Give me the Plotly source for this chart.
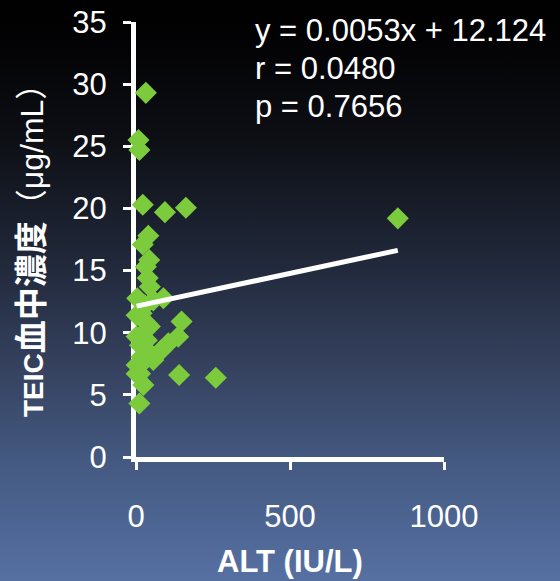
import plotly.graph_objects as go
import urllib.parse

# ---------------- data ----------------
alt_iu = [32, 8, 11, 22, 94, 162, 40, 22, 43, 32, 38, 4, 89, 56, 45, 29, 2, 18,
          148, 35, 45, 137, 105, 83, 13, 35, 2, 13, 45, 18, 56, 2, 18, 2, 13, 24,
          140, 259, 11, 850]
teic = [29.3, 25.5, 24.7, 20.3, 19.7, 20.05, 17.8, 17.1, 15.85, 15.3, 14.4, 12.77,
        12.77, 12.6, 13.7, 12.2, 11.4, 11.56, 10.9, 10.75, 10.5, 9.68, 9.15, 8.6,
        9.7, 9.4, 9.7, 9.0, 8.34, 8.07, 7.8, 7.4, 7.5, 6.7, 6.7, 5.8, 6.6, 6.38,
        4.3, 19.2]
slope = 0.0053
intercept = 12.124
stats_lines = ["y = 0.0053x + 12.124", "r = 0.0480", "p = 0.7656"]
x_ticks = [0, 500, 1000]
y_ticks = [0, 5, 10, 15, 20, 25, 30, 35]
x_title = "<b>ALT (IU/L)</b>"
y_title_parts = ["TEIC", "血中濃度", "（μg/mL）"]

# ---------------- layout geometry ----------------
W, H = 560, 581
L, R, T, B = 136, 116, 22, 124
PW, PH = W - L - R, H - T - B

def px(X):
    return (X - L) / PW

def py(Y):
    return (H - B - Y) / PH

FONT = "Liberation Sans, Arial, Noto Sans CJK JP, sans-serif"

y_title = (f'<b><span style="font-size:28px">{y_title_parts[0]}</span>'
           f'<span style="font-size:33px">{y_title_parts[1]}</span></b>'
           f'<span style="font-size:32px">{y_title_parts[2]}</span>')

# gradient background as svg image
stops = [(0.0, (0, 0, 0)), (0.08, (3, 3, 5)), (0.25, (14, 16, 22)),
         (0.45, (32, 40, 58)), (0.65, (55, 68, 98)), (0.8, (68, 90, 130)),
         (1.0, (86, 112, 162))]
stop_xml = "".join(
    f'<stop offset="{o}" stop-color="rgb({c[0]},{c[1]},{c[2]})"/>' for o, c in stops)
svg = (f'<svg xmlns="http://www.w3.org/2000/svg" width="{W}" height="{H}" '
       f'preserveAspectRatio="none"><defs><linearGradient id="g" x1="0" y1="0" x2="0" y2="1">'
       f'{stop_xml}</linearGradient></defs><rect width="{W}" height="{H}" fill="url(#g)"/></svg>')
svg_uri = "data:image/svg+xml;charset=utf-8," + urllib.parse.quote(svg)

fig = go.Figure()
fig.add_trace(go.Scatter(
    x=alt_iu, y=teic, mode="markers",
    marker=dict(symbol="diamond", size=17, color="#7BCB3C", line=dict(width=0)),
    showlegend=False, cliponaxis=False))
x0, x1 = min(alt_iu), max(alt_iu)
fig.add_trace(go.Scatter(
    x=[x0, x1], y=[slope * x0 + intercept, slope * x1 + intercept], mode="lines",
    line=dict(color="white", width=5), showlegend=False, cliponaxis=False))

axis_common = dict(
    showline=True, linecolor="white", linewidth=5, showgrid=False, zeroline=False,
    ticks="outside", tickcolor="white", ticklen=8, tickwidth=3, automargin=False,
    tickfont=dict(family=FONT, size=31, color="white"), layer="below traces")

fig.update_xaxes(range=[0, 1000], tickvals=x_ticks, ticklabelstandoff=20, **axis_common)
fig.update_yaxes(range=[0, 35], tickvals=y_ticks, ticklabelstandoff=10, **axis_common)

annotations = [
    dict(text=x_title, x=px(290), y=py(561), xref="paper", yref="paper",
         showarrow=False, xanchor="center", yanchor="middle",
         font=dict(family=FONT, size=31, color="white")),
    dict(text=y_title, x=px(31), y=py(243), xref="paper", yref="paper",
         showarrow=False, xanchor="center", yanchor="middle", textangle=-90,
         font=dict(family=FONT, size=30, color="white")),
]
for i, s in enumerate(stats_lines):
    annotations.append(dict(
        text=s, x=px(253), y=py(30 + 38 * i), xref="paper", yref="paper",
        showarrow=False, xanchor="left", yanchor="middle",
        font=dict(family=FONT, size=31, color="white")))

fig.update_layout(
    width=W, height=H, margin=dict(l=L, r=R, t=T, b=B, pad=0),
    paper_bgcolor="black", plot_bgcolor="rgba(0,0,0,0)",
    annotations=annotations,
    images=[dict(source=svg_uri, xref="paper", yref="paper",
                 x=px(0), y=py(0), sizex=px(W) - px(0), sizey=py(0) - py(H),
                 xanchor="left", yanchor="top", sizing="stretch", layer="below")],
)

fig.write_html("out.html")
